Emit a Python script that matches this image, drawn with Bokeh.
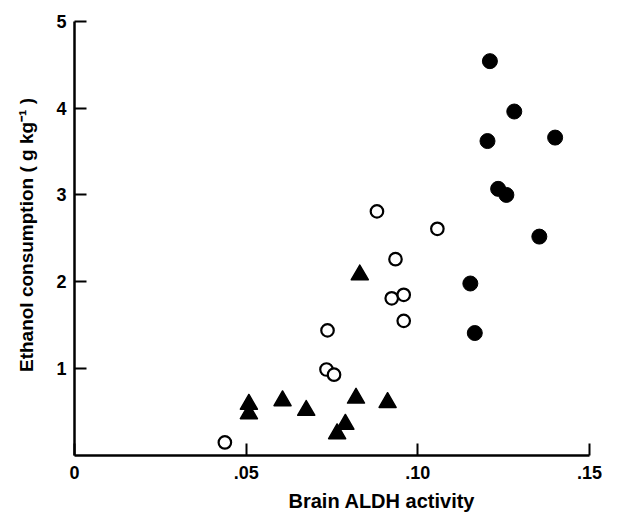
from bokeh.plotting import figure
from bokeh.models import FixedTicker, Range1d, Title
from bokeh.embed import file_html
from bokeh.resources import INLINE

# Filled circles
filled_x = [0.1210, 0.1281, 0.1203, 0.1400, 0.1234, 0.1258, 0.1354, 0.1153, 0.1166]
filled_y = [4.54, 3.96, 3.62, 3.66, 3.07, 3.00, 2.52, 1.98, 1.41]
# Open circles
open_x = [0.0881, 0.1057, 0.0935, 0.0924, 0.0959, 0.0959, 0.0737, 0.0734, 0.0756, 0.0438]
open_y = [2.81, 2.61, 2.26, 1.81, 1.85, 1.55, 1.44, 0.99, 0.93, 0.15]
# Filled triangles
tri_x = [0.0831, 0.0508, 0.0508, 0.0606, 0.0675, 0.0820, 0.0912, 0.0789, 0.0765]
tri_y = [2.08, 0.59, 0.48, 0.63, 0.52, 0.66, 0.61, 0.36, 0.25]

x_ticks = [0, 0.05, 0.10, 0.15]
x_tick_labels = ["0", ".05", ".10", ".15"]
y_ticks = [1, 2, 3, 4, 5]
x_title = "Brain ALDH activity"
y_title = "Ethanol consumption ( g kg\u207b\u00b9 )"

FONT = "Liberation Sans"

p = figure(width=602, height=518, output_backend="svg", toolbar_location=None,
           x_range=Range1d(0, 0.1538), y_range=Range1d(0, 5.077),
           min_border_left=74, min_border_right=0, min_border_top=14, min_border_bottom=0)
p.background_fill_color = "white"
p.border_fill_color = "white"
p.outline_line_color = None
p.xgrid.visible = False
p.ygrid.visible = False

p.scatter(filled_x, filled_y, marker="circle", size=15, fill_color="black", line_color="black")
p.scatter(open_x, open_y, marker="circle", size=12.5, fill_color="white", line_color="black", line_width=2.2)
p.scatter(tri_x, tri_y, marker="triangle", size=17, fill_color="black", line_color="black",
          line_join="round", line_width=1.5)

for ax in (p.xaxis[0], p.yaxis[0]):
    ax.axis_line_width = 2.5
    ax.axis_line_color = "black"
    ax.major_tick_in = 12
    ax.major_tick_out = 0
    ax.major_tick_line_width = 2
    ax.major_tick_line_color = "black"
    ax.minor_tick_line_color = None
    ax.major_label_text_font = FONT
    ax.major_label_text_font_style = "bold"
    ax.major_label_text_font_size = "18px"
    ax.major_label_text_color = "black"
    ax.axis_label_text_font = FONT
    ax.axis_label_text_font_style = "bold"
    ax.axis_label_text_font_size = "19px"
    ax.axis_label_text_color = "black"

p.xaxis.ticker = FixedTicker(ticks=x_ticks)
p.xaxis.major_label_overrides = {t: l for t, l in zip(x_ticks, x_tick_labels)}
p.xaxis.bounds = (0, 0.15)
p.xaxis.major_label_standoff = 10

p.yaxis.ticker = FixedTicker(ticks=y_ticks)
p.yaxis.bounds = (0, 5)
p.yaxis.major_label_standoff = 8
p.yaxis.axis_label = y_title
p.yaxis.axis_label_standoff = 16

p.add_layout(Title(text=x_title, align="left", offset=214, standoff=13,
                   text_font=FONT, text_font_style="bold", text_font_size="20px",
                   text_color="black"), "below")

open("out.html", "w").write(file_html(p, INLINE))
